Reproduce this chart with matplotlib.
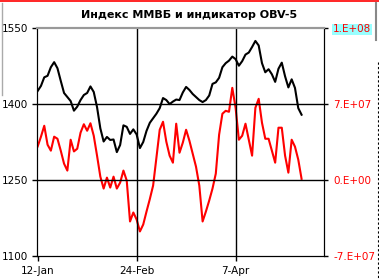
import matplotlib
matplotlib.use('Agg')
import matplotlib.pyplot as plt
from matplotlib.lines import Line2D
from matplotlib.ticker import FuncFormatter

# MMVB index (left axis), one value per trading day
micex = [1426, 1436, 1453, 1456, 1473, 1483, 1471, 1446, 1422, 1414,
         1406, 1387, 1395, 1408, 1418, 1422, 1435, 1424, 1394, 1352,
         1326, 1335, 1329, 1330, 1305, 1319, 1358, 1355, 1341, 1350,
         1340, 1313, 1325, 1347, 1363, 1372, 1381, 1392, 1412, 1408,
         1400, 1405, 1409, 1408, 1423, 1434, 1428, 1420, 1414, 1408,
         1404, 1408, 1417, 1440, 1443, 1452, 1473, 1481, 1486, 1494,
         1489, 1476, 1485, 1498, 1502, 1513, 1525, 1516, 1481, 1463,
         1469, 1459, 1444, 1470, 1482, 1455, 1433, 1449, 1432, 1392,
         1379]

# OBV-5 indicator, millions (right axis)
obv_mln = [30.9, 39.9, 50.0, 32.5, 27.0, 39.9, 38.0, 27.0, 15.0, 8.6,
           37.1, 26.3, 28.8, 43.6, 51.4, 45.4, 52.3, 40.8, 22.4, 3.0,
           -8.0, 2.1, -7.1, 3.0, -8.0, -2.5, 8.6, -0.6, -38.4, -30.1,
           -36.6, -47.6, -41.2, -29.2, -17.7, -5.2, 20.5, 46.3, 53.7, 35.3,
           22.4, 15.9, 51.9, 25.1, 34.4, 46.3, 36.2, 24.2, 12.2, -5.2,
           -38.4, -29.2, -19.1, -8.0, 5.8, 41.7, 61.1, 63.8, 62.9, 85.0,
           66.6, 37.1, 40.8, 51.9, 37.1, 22.4, 66.6, 74.9, 52.8, 38.0,
           38.0, 27.0, 15.9, 48.2, 48.2, 22.4, 6.7, 37.1, 30.7, 18.7,
           1.0]

date_labels = ['12-Jan', '24-Feb', '7-Apr']
date_pos = [0, 30, 60]

left_ticks = [1100, 1250, 1400, 1550]
right_ticks = [-7e7, 0, 7e7, 1.4e8]

obv = [v * 1e6 for v in obv_mln]
days = list(range(len(micex)))

plt.rcParams['font.family'] = 'DejaVu Sans'

fig = plt.figure(figsize=(3.79, 2.80), dpi=100)
ax = fig.add_axes([37 / 379, 1 - 255.7 / 280, (324 - 37) / 379, (255.7 - 28.3) / 280])
ax2 = ax.twinx()

# grid lines
for y in [1250, 1400]:
    ax.axhline(y, color='black', lw=1.0, zorder=1)
for x in date_pos[1:]:
    ax.axvline(x, color='black', lw=1.0, zorder=1)

ax.plot(days, micex, color='black', lw=1.5, zorder=3)
ax2.plot(days, obv, color='#ff0000', lw=1.5, zorder=3)

ax.set_xlim(-0.2, 86.8)
ax.set_ylim(1100, 1550)
ax2.set_ylim(-7e7, 1.4e8)

ax.set_yticks(left_ticks)
ax.set_yticklabels([str(t) for t in left_ticks])
ax.set_xticks(date_pos)
ax.set_xticklabels(date_labels)


def excel_sci(v, pos=None):
    if v == 0:
        return '0.E+00'
    exp = 0
    m = abs(v)
    while m >= 10:
        m /= 10
        exp += 1
    sign = '-' if v < 0 else ''
    return f"{sign}{int(round(m))}.E+{exp:02d}"


ax2.set_yticks(right_ticks)
ax2.yaxis.set_major_formatter(FuncFormatter(excel_sci))

ax.tick_params(axis='both', direction='out', length=3.5, width=1, labelsize=7.5,
               colors='black', pad=3)
ax.tick_params(axis='x', pad=4)
ax2.tick_params(axis='y', direction='out', length=3, width=1, labelsize=7.5,
                colors='black', labelcolor='#ff0000', pad=3.5)

for a in (ax, ax2):
    a.spines['left'].set_color('black')
    a.spines['right'].set_color('black')
    a.spines['bottom'].set_color('black')
    a.spines['top'].set_color('#999999')
    a.spines['top'].set_linewidth(1.5)
    a.patch.set_visible(False)

ax.set_zorder(ax2.get_zorder() + 1)

# highlighted top label on the right axis
for lbl in ax2.get_yticklabels():
    if lbl.get_text() == '1.E+08':
        lbl.set_bbox(dict(facecolor='#99ffff', edgecolor='none', pad=0.5))

fig.text(189 / 379, 1 - 15 / 280, 'Индекс ММВБ и индикатор OBV-5',
         ha='center', va='center', fontsize=8, fontweight='bold')

# frame artifacts of the original screenshot
fig.add_artist(Line2D([0, 1], [1 - 0.8 / 280, 1 - 0.8 / 280], color='#ff0000', lw=1.2,
                      transform=fig.transFigure))
fig.add_artist(Line2D([1.5 / 379, 1.5 / 379], [1 - 3 / 280, 1 - 95 / 280], color='#aaaaaa',
                      lw=1.0, transform=fig.transFigure))
fig.add_artist(Line2D([376 / 379, 376 / 379], [1 - 3 / 280, 1 - 40 / 280], color='#888888',
                      lw=1.5, transform=fig.transFigure))
fig.add_artist(Line2D([378 / 379, 378 / 379], [1 - 62 / 280, 0], color='black', lw=0.8,
                      ls=(0, (2, 2)), transform=fig.transFigure))

plt.savefig('out.png', dpi=100, facecolor='white')
